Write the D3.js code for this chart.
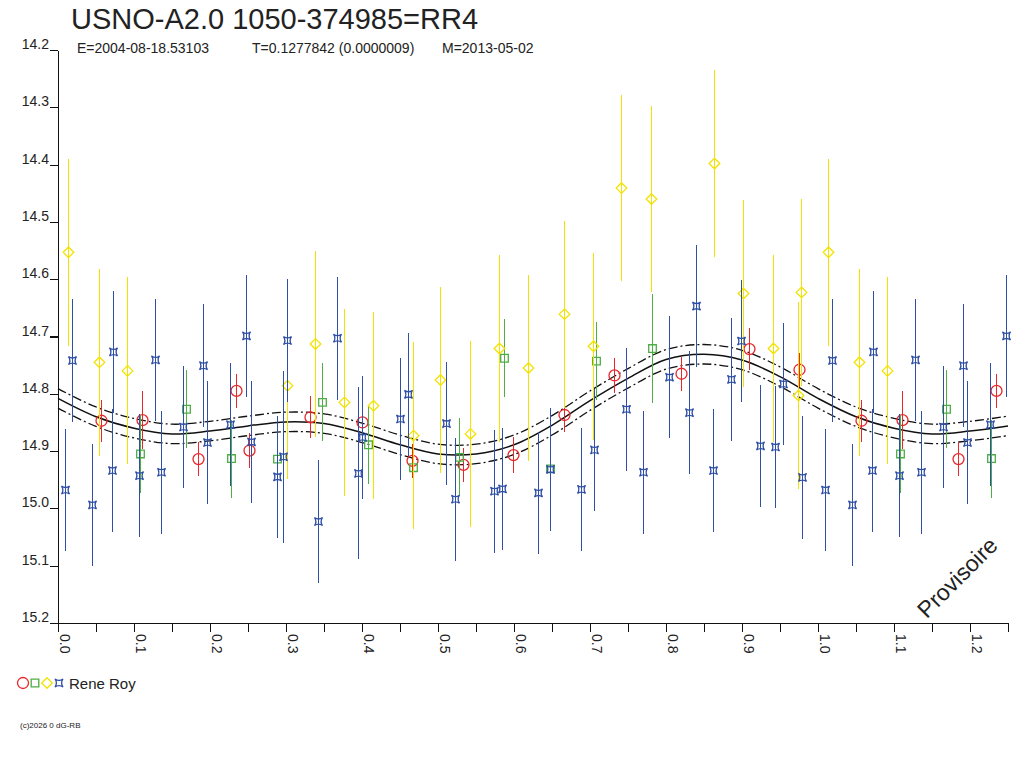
<!DOCTYPE html>
<html lang="fr">
<head>
<meta charset="UTF-8">
<title>USNO-A2.0 1050-374985=RR4</title>
<script src="https://d3js.org/d3.v7.min.js"></script>
<style>
  body { margin: 0; background: #fff; }
  svg { display: block; }
  text { font-family: "Liberation Sans", Arial, sans-serif; fill: #222; }
  .axis path, .axis line { stroke: #111; stroke-width: 1.2px; shape-rendering: crispEdges; }
  .axis text { font-size: 14px; fill: #222; }
  .err { stroke-width: 1.2px; shape-rendering: crispEdges; }
  .mark { fill: none; stroke-width: 1.3px; }
</style>
</head>
<body>
<svg width="1024" height="768"></svg>
<script>
// phase, magnitude, error
const redPts = [
  [0.0566, 14.847, 0.037], [0.111, 14.846, 0.051], [0.1846, 14.914, 0.030],
  [0.2338, 14.795, 0.030], [0.251, 14.899, 0.030], [0.3311, 14.841, 0.037],
  [0.3996, 14.850, 0.030], [0.4658, 14.917, 0.030], [0.5333, 14.924, 0.030],
  [0.5982, 14.907, 0.031], [0.6654, 14.837, 0.030], [0.7311, 14.768, 0.031],
  [0.8197, 14.765, 0.030], [0.9096, 14.722, 0.037], [0.975, 14.758, 0.030]
];
const greenPts = [
  [0.1075, 14.905, 0.068], [0.168, 14.827, 0.068], [0.228, 14.913, 0.068],
  [0.2877, 14.914, 0.068], [0.3478, 14.815, 0.068], [0.4075, 14.889, 0.069],
  [0.4675, 14.929, 0.069], [0.528, 14.911, 0.068], [0.5873, 14.738, 0.068],
  [0.6474, 14.931, 0.068], [0.7075, 14.743, 0.068], [0.782, 14.721, 0.095]
];
const yellowPts = [
  [0.0136, 14.553, 0.163], [0.0535, 14.745, 0.163], [0.0912, 14.760, 0.163],
  [0.301, 14.786, 0.163], [0.3382, 14.713, 0.163], [0.3768, 14.815, 0.163],
  [0.4149, 14.821, 0.163], [0.4667, 14.873, 0.163], [0.5026, 14.776, 0.163],
  [0.5425, 14.870, 0.163], [0.5798, 14.721, 0.163], [0.6189, 14.755, 0.163],
  [0.6658, 14.661, 0.163], [0.7044, 14.717, 0.163], [0.7412, 14.441, 0.163],
  [0.7807, 14.460, 0.163], [0.8636, 14.398, 0.163], [0.9018, 14.625, 0.163],
  [0.9404, 14.721, 0.163], [0.9741, 14.803, 0.163], [0.9772, 14.623, 0.163]
];
const bluePts = [
  [0.0096, 14.968, 0.107], [0.018, 14.742, 0.107], [0.0447, 14.994, 0.107],
  [0.072, 14.727, 0.107], [0.0715, 14.934, 0.107], [0.107, 14.943, 0.107],
  [0.128, 14.741, 0.107], [0.135, 14.937, 0.107], [0.165, 14.858, 0.107],
  [0.191, 14.751, 0.107], [0.196, 14.885, 0.107], [0.226, 14.854, 0.107],
  [0.248, 14.699, 0.107], [0.254, 14.884, 0.107], [0.2877, 14.945, 0.107],
  [0.2965, 14.910, 0.150], [0.3013, 14.707, 0.107], [0.342, 15.023, 0.107],
  [0.3667, 14.703, 0.107], [0.3943, 14.939, 0.150], [0.4004, 14.876, 0.107],
  [0.45, 14.844, 0.107], [0.461, 14.801, 0.107], [0.5105, 14.852, 0.107],
  [0.5228, 14.984, 0.107], [0.5741, 14.970, 0.107], [0.5846, 14.966, 0.107],
  [0.6311, 14.973, 0.107], [0.6474, 14.932, 0.107], [0.6877, 14.967, 0.107],
  [0.7057, 14.898, 0.107], [0.7469, 14.827, 0.107], [0.7701, 14.937, 0.107],
  [0.8043, 14.771, 0.107], [0.8298, 14.833, 0.107], [0.8399, 14.647, 0.107],
  [0.8623, 14.934, 0.107], [0.886, 14.775, 0.107], [0.8982, 14.708, 0.107],
  [0.9237, 14.891, 0.107], [0.9439, 14.893, 0.107], [0.9544, 14.783, 0.107],
  [0.9793, 14.946, 0.107]
];

// fitted light curve and its envelope
const fitPhase = [0, 0.05, 0.1, 0.15, 0.2, 0.25, 0.3, 0.35, 0.4, 0.45, 0.5, 0.55, 0.6,
  0.65, 0.7, 0.75, 0.8, 0.85, 0.9, 0.95, 1.0, 1.05, 1.1, 1.15, 1.2, 1.25];
const fitMag = [14.808, 14.840, 14.860, 14.870, 14.865, 14.856, 14.849, 14.852, 14.868,
  14.889, 14.905, 14.905, 14.889, 14.855, 14.812, 14.773, 14.740, 14.731, 14.741,
  14.770, 14.808, 14.840, 14.860, 14.870, 14.865, 14.856];
const fitUpper = [14.791, 14.823, 14.843, 14.853, 14.848, 14.839, 14.832, 14.835, 14.851,
  14.872, 14.888, 14.888, 14.872, 14.838, 14.795, 14.756, 14.723, 14.714, 14.724,
  14.753, 14.791, 14.823, 14.843, 14.853, 14.848, 14.839];
const fitLower = [14.825, 14.857, 14.877, 14.887, 14.882, 14.873, 14.866, 14.869, 14.885,
  14.906, 14.922, 14.922, 14.906, 14.872, 14.829, 14.790, 14.757, 14.748, 14.758,
  14.787, 14.825, 14.857, 14.877, 14.887, 14.882, 14.873];

const yTicks = [14.2, 14.3, 14.4, 14.5, 14.6, 14.7, 14.8, 14.9, 15.0, 15.1, 15.2];
const xTicks = [0, 0.05, 0.1, 0.15, 0.2, 0.25, 0.3, 0.35, 0.4, 0.45, 0.5, 0.55, 0.6,
  0.65, 0.7, 0.75, 0.8, 0.85, 0.9, 0.95, 1.0, 1.05, 1.1, 1.15, 1.2, 1.25];

const title = "USNO-A2.0 1050-374985=RR4";
const subtitle = ["E=2004-08-18.53103", "T=0.1277842 (0.0000009)", "M=2013-05-02"];
const observer = "Rene Roy";

const svg = d3.select("svg");

const x = d3.scaleLinear().domain([0, 1.25]).range([58, 1008]);
const y = d3.scaleLinear().domain([14.2, 15.2]).range([50, 623]);

// symbols
const shapes = {
  circle: "M5.5,0A5.5,5.5 0 1,1 -5.5,0A5.5,5.5 0 1,1 5.5,0Z",
  square: "M-3.8,-3.8H3.8V3.8H-3.8Z",
  diamond: "M0,-5.3L5.3,0L0,5.3L-5.3,0Z",
  star: "M-4,-4Q0,-1.2 4,-4Q1.2,0 4,4Q0,1.2 -4,4Q-1.2,0 -4,-4Z"
};
const series = [
  { pts: redPts, color: "#e8262a", shape: "circle" },
  { pts: greenPts, color: "#4cae44", shape: "square" },
  { pts: yellowPts, color: "#f2e200", shape: "diamond" },
  { pts: bluePts, color: "#2f4fa6", shape: "star" }
];

// repeat the first quarter of the phase after 1.0
function unfold(pts) {
  return pts.flatMap(p => p[0] + 1 <= 1.25 ? [p, [p[0] + 1, p[1], p[2]]] : [p]);
}

// axes
const yAxis = svg.append("g").attr("class", "axis")
  .attr("transform", "translate(58,0)")
  .call(d3.axisLeft(y).tickValues(yTicks).tickSize(8).tickSizeOuter(0)
    .tickFormat(d3.format(".1f")));
yAxis.attr("font-family", null).attr("font-size", null);
yAxis.selectAll("text").attr("x", -9).attr("dy", -1.5);

const xAxis = svg.append("g").attr("class", "axis")
  .attr("transform", "translate(0,623)")
  .call(d3.axisBottom(x).tickValues(xTicks).tickSize(9).tickSizeOuter(0)
    .tickFormat(d => Math.abs(d * 10 - Math.round(d * 10)) < 1e-6 ? d3.format(".1f")(d) : ""));
xAxis.attr("font-family", null).attr("font-size", null);
xAxis.selectAll("text")
  .attr("transform", "rotate(90)")
  .attr("x", 11).attr("y", -1.5).attr("dy", 0)
  .attr("text-anchor", "start");

// fit curve
const fitLine = (vals) => d3.line()
  .x((d, i) => x(fitPhase[i]))
  .y(d => y(d))
  .curve(d3.curveCatmullRom)(vals);

svg.append("path").attr("d", fitLine(fitUpper))
  .attr("fill", "none").attr("stroke", "#111").attr("stroke-width", 1.3)
  .attr("stroke-dasharray", "9,3,2,3");
svg.append("path").attr("d", fitLine(fitLower))
  .attr("fill", "none").attr("stroke", "#111").attr("stroke-width", 1.3)
  .attr("stroke-dasharray", "9,3,2,3");
svg.append("path").attr("d", fitLine(fitMag))
  .attr("fill", "none").attr("stroke", "#111").attr("stroke-width", 1.5);

// error bars and markers
series.forEach(s => {
  const g = svg.append("g");
  const pts = unfold(s.pts);
  g.selectAll("line").data(pts).enter().append("line")
    .attr("class", "err")
    .attr("x1", d => Math.round(x(d[0])) + 0.5).attr("x2", d => Math.round(x(d[0])) + 0.5)
    .attr("y1", d => y(d[1] - d[2])).attr("y2", d => y(d[1] + d[2]))
    .attr("stroke", s.color);
  g.selectAll("path").data(pts).enter().append("path")
    .attr("class", "mark")
    .attr("d", shapes[s.shape])
    .attr("transform", d => `translate(${Math.round(x(d[0])) + 0.5},${y(d[1])})`)
    .attr("stroke", s.color);
});

// titles
svg.append("text").attr("x", 71).attr("y", 29)
  .attr("font-size", 29).attr("fill", "#111").text(title);
const sub = svg.append("text").attr("y", 53).attr("font-size", 14);
[77, 252, 442].forEach((px, i) => {
  sub.append("tspan").attr("x", px).text(subtitle[i]);
});

// legend
const legend = svg.append("g");
series.forEach((s, i) => {
  legend.append("path").attr("class", "mark")
    .attr("d", shapes[s.shape])
    .attr("transform", `translate(${23 + i * 12},683)`)
    .attr("stroke", s.color);
});
legend.append("text").attr("x", 69).attr("y", 688.5)
  .attr("font-size", 15).text(observer);

// watermark and footer
svg.append("text")
  .attr("transform", "translate(963,583) rotate(-45)")
  .attr("text-anchor", "middle").attr("font-size", 23)
  .attr("fill", "#222").text("Provisoire");
svg.append("text").attr("x", 20).attr("y", 727.5)
  .attr("font-size", 8).attr("fill", "#111").text("(c)2026 0 dG-RB");
</script>
</body>
</html>
